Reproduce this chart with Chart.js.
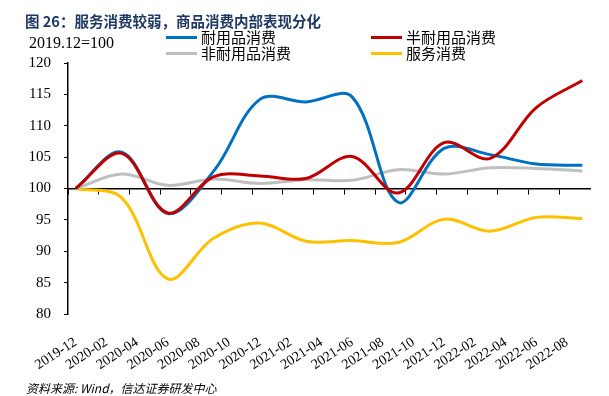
<!DOCTYPE html>
<html>
<head>
<meta charset="utf-8">
<script src="https://cdn.jsdelivr.net/npm/chart.js@4/dist/chart.umd.min.js"></script>
<style>
  body { margin: 0; background: #fff; }
  #wrap { position: relative; width: 609px; height: 396px; overflow: hidden; }
  #chart { position: absolute; left: 0; top: 0; }
  .title { position: absolute; left: 25px; top: 11px; font: bold 14.5px "Noto Sans CJK SC", sans-serif; color: #1f3864; white-space: nowrap; line-height: 20px; }
  .unit { position: absolute; left: 29px; top: 34px; font: 16px "Liberation Serif", serif; color: #000; line-height: 18px; }
  .leg { position: absolute; font: 15px "Noto Sans CJK SC", sans-serif; color: #000; white-space: nowrap; line-height: 16px; }
  .leg i { display: inline-block; width: 31px; height: 3px; vertical-align: middle; margin-right: 4px; position: relative; top: -1px; }
  .src { position: absolute; left: 26px; top: 380px; font: italic 12px "Noto Sans CJK SC", sans-serif; color: #000; line-height: 16px; }
</style>
</head>
<body>
<div id="wrap">
  <canvas id="chart" width="609" height="396"></canvas>
  <div class="title">图 26：服务消费较弱，商品消费内部表现分化</div>
  <div class="unit">2019.12=100</div>
  <div class="leg" style="left:166px;top:29px"><i style="background:#0070c0"></i>耐用品消费</div>
  <div class="leg" style="left:371px;top:29px"><i style="background:#c00000"></i>半耐用品消费</div>
  <div class="leg" style="left:166px;top:45px"><i style="background:#bfbfbf"></i>非耐用品消费</div>
  <div class="leg" style="left:371px;top:45px"><i style="background:#ffc000"></i>服务消费</div>
  <div class="src">资料来源: Wind，信达证券研发中心</div>
</div>
<script>
// monthly category axis, labels shown every other month
const months = [
  "2019-12", "2020-01", "2020-02", "2020-03", "2020-04", "2020-05", "2020-06",
  "2020-07", "2020-08", "2020-09", "2020-10", "2020-11", "2020-12",
  "2021-01", "2021-02", "2021-03", "2021-04", "2021-05", "2021-06",
  "2021-07", "2021-08", "2021-09", "2021-10", "2021-11", "2021-12",
  "2022-01", "2022-02", "2022-03", "2022-04", "2022-05", "2022-06",
  "2022-07", "2022-08", "2022-09"
];

// quarterly observations
const quarters = [
  "2019-12", "2020-03", "2020-06", "2020-09", "2020-12", "2021-03",
  "2021-06", "2021-09", "2021-12", "2022-03", "2022-06", "2022-09"
];
const durable =     [100, 105.8, 96.0, 102.8, 114.2, 113.8, 114.6, 97.8, 106.4, 105.4, 103.9, 103.7];
const semiDurable = [100, 105.6, 96.1, 101.9, 102.0, 101.6, 105.1, 99.3, 107.3, 104.8, 112.9, 117.2];
const nonDurable =  [100, 102.3, 100.5, 101.5, 100.8, 101.4, 101.3, 103.0, 102.3, 103.3, 103.2, 102.8];
const services =    [100, 98.5, 85.6, 92.1, 94.5, 91.6, 91.7, 91.4, 95.1, 93.2, 95.4, 95.2];

const yTicks = [80, 85, 90, 95, 100, 105, 110, 115, 120];

function pts(vals) {
  return quarters.map((q, i) => ({ x: q, y: vals[i] }));
}

function line(label, vals, color) {
  return {
    label: label,
    data: pts(vals),
    borderColor: color,
    backgroundColor: color,
    borderWidth: 3,
    pointRadius: 0,
    tension: 0.35,
    fill: false,
  };
}

const ctx = document.getElementById("chart").getContext("2d");
const myChart = new Chart(ctx, {
  type: "line",
  data: {
    labels: months,
    datasets: [
      line("半耐用品消费", semiDurable, "#c00000"),
      line("耐用品消费", durable, "#0070c0"),
      line("非耐用品消费", nonDurable, "#bfbfbf"),
      line("服务消费", services, "#ffc000"),
    ],
  },
  options: {
    responsive: false,
    animation: false,
    layout: { padding: { left: 0, right: 19, top: 63, bottom: 22 } },
    plugins: { legend: { display: false }, tooltip: { enabled: false } },
    scales: {
      x: {
        type: "category",
        offset: true,
        border: { display: false },
        grid: { display: false },
        ticks: {
          autoSkip: false,
          minRotation: 33,
          maxRotation: 33,
          padding: 12,
          color: "#000",
          font: { family: "Liberation Serif", size: 14 },
          callback: function (v, i) {
            return i % 2 === 0 ? months[i] : "";
          },
        },
        afterFit: function (scale) {
          scale.height = 60;
        },
      },
      x2: {
        type: "category",
        labels: months,
        offset: true,
        position: { y: 100 },
        border: { display: true, color: "#000", width: 1.5 },
        grid: {
          offset: true,
          drawOnChartArea: false,
          tickLength: 5,
          tickWidth: 1,
          tickColor: (c) => (c.index % 2 === 0 ? "#000" : "rgba(0,0,0,0)"),
        },
        ticks: { display: false },
        afterFit: function (scale) {
          scale.height = 0;
        },
      },
      y: {
        min: 80,
        max: 120,
        border: { display: true, color: "#000", width: 1.5 },
        grid: { drawOnChartArea: false, tickLength: 4, tickColor: "#000" },
        afterBuildTicks: function (scale) {
          scale.ticks = yTicks.map((v) => ({ value: v }));
        },
        ticks: {
          padding: 13,
          color: "#000",
          font: { family: "Liberation Serif", size: 15 },
        },
        afterFit: function (scale) {
          scale.width = 68;
        },
      },
    },
  },
});
</script>
</body>
</html>
